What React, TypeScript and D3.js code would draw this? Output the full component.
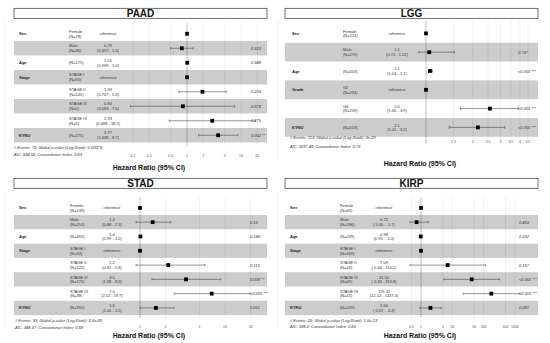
import * as React from "react";
import * as d3 from "d3";

const W = 550;
const H = 343;
const FONT = "Liberation Sans, Arial, sans-serif";

// ---- PAAD ----
const paadVars = ["Sex", "", "Age", "Stage", "", "", "", "KYNU"];
const paadLevels = ["Female", "Male", "", "STAGE I", "STAGE II", "STAGE III", "STAGE IV", ""];
const paadN = [78, 96, 175, 90, 145, 5, 5, 175];
const paadHR = [1, 0.8, 1.01, 1, 1.93, 0.84, 2.93, 3.77];
const paadLow = [NaN, 0.497, 0.999, NaN, 0.707, 0.083, 0.468, 1.638];
const paadHigh = [NaN, 1.3, 1.02, NaN, 5.3, 7.6, 18.5, 8.7];
const paadHRText = ["reference", "0.79", "1.01", "reference", "1.93", "0.84", "2.93", "3.77"];
const paadCIText = ["", "(0.497 - 1.3)", "(0.999 - 1.0)", "", "(0.707 - 5.3)", "(0.083 - 7.6)", "(0.468 - 18.5)", "(1.638 - 8.7)"];
const paadP = ["", "0.313", "0.348", "", "0.203", "0.878", "0.275", "0.002 **"];
const paadTicks = [0.1, 0.2, 0.5, 1, 2, 5, 10, 20];
const paadFooter = ["# Events: 73; Global p-value (Log-Rank): 0.00079", "AIC: 634.56; Concordance Index: 0.63"];

// ---- LGG ----
const lggVars = ["Sex", "", "Age", "Grade", "", "KYNU"];
const lggLevels = ["Female", "Male", "", "G2", "G3", ""];
const lggN = [224, 279, 503, 244, 259, 503];
const lggHR = [1, 1.05, 1.06, 1, 2.57, 2.15];
const lggLow = [NaN, 0.72, 1.04, NaN, 1.66, 1.41];
const lggHigh = [NaN, 1.52, 1.1, NaN, 3.9, 3.2];
const lggHRText = ["reference", "1.1", "1.1", "reference", "2.6", "2.1"];
const lggCIText = ["", "(0.72 - 1.52)", "(1.04 - 1.1)", "", "(1.66 - 3.9)", "(1.41 - 3.2)"];
const lggP = ["", "0.797", "<0.001 ***", "", "<0.001 ***", "<0.001 ***"];
const lggTicks = [1, 1.5, 2, 2.5, 3, 3.5, 4, 4.5];
const lggFooter = ["# Events: 113; Global p-value (Log-Rank): 3e-20", "AIC: 1037.46; Concordance Index: 0.79"];

// ---- STAD ----
const stadVars = ["Sex", "", "Age", "Stage", "", "", "", "KYNU"];
const stadLevels = ["Female", "Male", "", "STAGE I", "STAGE II", "STAGE III", "STAGE IV", ""];
const stadN = [139, 253, 392, 53, 125, 175, 38, 392];
const stadHR = [1, 1.41, 1.01, 1, 2.15, 3.48, 6.97, 1.54];
const stadLow = [NaN, 0.88, 0.99, NaN, 0.82, 1.38, 2.52, 1.0];
const stadHigh = [NaN, 2.3, 1.02, NaN, 5.8, 8.9, 19.7, 2.5];
const stadHRText = ["reference", "1.4", "1.0", "reference", "2.2", "3.5", "7.0", "1.6"];
const stadCIText = ["", "(0.88 - 2.3)", "(0.99 - 1.0)", "", "(0.82 - 5.8)", "(1.38 - 8.9)", "(2.52 - 19.7)", "(1.00 - 2.5)"];
const stadP = ["", "0.15", "0.149", "", "0.119", "0.008 **", "<0.001 ***", "0.051"];
const stadTicks = [1, 2, 5, 10, 20];
const stadFooter = ["# Events: 93; Global p-value (Log-Rank): 2.5e-05", "AIC: 948.37; Concordance Index: 0.68"];

// ---- KIRP ----
const kirpVars = ["Sex", "", "Age", "Stage", "", "", "", "KYNU"];
const kirpLevels = ["Female", "Male", "", "STAGE I", "STAGE II", "STAGE III", "STAGE IV", ""];
const kirpN = [63, 186, 249, 169, 16, 49, 15, 249];
const kirpHR = [1, 0.72, 0.98, 1, 7.09, 41.5, 176.32, 2.0];
const kirpLow = [NaN, 0.3, 0.95, NaN, 0.44, 5.38, 22.12, 0.92];
const kirpHigh = [NaN, 1.7, 1.0, NaN, 114.1, 319.8, 1437.4, 4.4];
const kirpHRText = ["reference", "0.72", "0.98", "reference", "7.09", "41.50", "176.32", "2.00"];
const kirpCIText = ["", "( 0.30 -  1.7)", "(0.95 -  1.0)", "", "( 0.44 - 114.1)", "( 5.38 - 319.8)", "(22.12 - 1437.4)", "( 0.92 -  4.4)"];
const kirpP = ["", "0.453", "0.232", "", "0.167", "<0.001 ***", "<0.001 ***", "0.081"];
const kirpTicks = [0.5, 1, 5, 10, 50, 100, 500, 1000];
const kirpFooter = ["# Events: 25; Global p-value (Log-Rank): 1.5e-13", "AIC: 188.2; Concordance Index: 0.83"];

const panels = [
  {
    title: "PAAD", vars: paadVars, levels: paadLevels, n: paadN, hr: paadHR, low: paadLow, high: paadHigh,
    hrText: paadHRText, ciText: paadCIText, p: paadP, ticks: paadTicks, footer: paadFooter,
    x: 0, y: 0, rowTop: 26.5, rowH: 14.5, domain: [0.1, 20], range: [133, 257.3],
    varX: 19, levelX: 69, estX: 108, pX: 251, footX: 14, footY: [147.5, 154.5], axisY: 155.5, hrY: 169.5,
  },
  {
    title: "LGG", vars: lggVars, levels: lggLevels, n: lggN, hr: lggHR, low: lggLow, high: lggHigh,
    hrText: lggHRText, ciText: lggCIText, p: lggP, ticks: lggTicks, footer: lggFooter,
    x: 271, y: 0, rowTop: 24, rowH: 18.8, domain: [1, 4.5], range: [155, 256.9],
    varX: 21, levelX: 72, estX: 126, pX: 247, footX: 19, footY: [137.8, 146], axisY: 142, hrY: 165.5,
  },
  {
    title: "STAD", vars: stadVars, levels: stadLevels, n: stadN, hr: stadHR, low: stadLow, high: stadHigh,
    hrText: stadHRText, ciText: stadCIText, p: stadP, ticks: stadTicks, footer: stadFooter,
    x: 0, y: 170, rowTop: 30.7, rowH: 14.3, domain: [1, 20], range: [140, 250.6],
    varX: 19, levelX: 70, estX: 112, pX: 250, footX: 15, footY: [150, 157], axisY: 156.5, hrY: 167.5,
  },
  {
    title: "KIRP", vars: kirpVars, levels: kirpLevels, n: kirpN, hr: kirpHR, low: kirpLow, high: kirpHigh,
    hrText: kirpHRText, ciText: kirpCIText, p: kirpP, ticks: kirpTicks, footer: kirpFooter,
    x: 271, y: 170, rowTop: 30.7, rowH: 14.3, domain: [0.5, 1000], range: [140.6, 243.9],
    varX: 19, levelX: 69, estX: 113, pX: 248, footX: 19, footY: [150, 156.5], axisY: 156.5, hrY: 167.5,
  },
];

function Forest({ d }: { d: any }) {
  const x = d3.scaleLog().domain(d.domain).range(d.range);
  const nRows = d.vars.length;
  const rowBottom = d.rowTop + nRows * d.rowH;
  const cy = (i: number) => d.rowTop + (i + 0.5) * d.rowH;
  const cap = d.rowH * 0.08;
  const small = 4;

  return (
    <g transform={`translate(${d.x},${d.y})`} fontFamily={FONT}>
      {/* title box */}
      <rect x={14} y={8.3} width={253} height={10} fill="#fff" stroke="#333" strokeWidth={0.7} />
      <text x={140.5} y={17} textAnchor="middle" fontWeight="bold" fontSize={10} fill="#111">{d.title}</text>

      {/* grid */}
      {d.ticks.map((t: number) => (
        <line key={"g" + t} x1={x(t)} x2={x(t)} y1={d.rowTop - 3} y2={rowBottom + 3} stroke="#dedede" strokeWidth={0.5} />
      ))}

      {/* row bands */}
      {d.vars.map((_: string, i: number) => (
        <rect key={"b" + i} x={14} width={253} y={d.rowTop + i * d.rowH} height={d.rowH}
          fill={i % 2 === 1 ? "rgba(0,0,0,0.2)" : "rgba(255,255,255,0.2)"} />
      ))}

      {/* reference line */}
      <line x1={x(1)} x2={x(1)} y1={d.rowTop - 3} y2={rowBottom + 3} stroke="#444" strokeWidth={0.5} strokeDasharray="0.8,0.8" />

      {d.vars.map((v: string, i: number) => {
        const c = cy(i);
        const hasCI = !isNaN(d.low[i]);
        const lo = hasCI ? Math.max(d.low[i], d.domain[0] * 0.9) : 1;
        return (
          <g key={"r" + i}>
            {v && <text x={d.varX} y={c} dominantBaseline="central" fontWeight="bold" fontSize={small} fill="#222">{v}</text>}
            {d.levels[i] ? (
              <>
                <text x={d.levelX} y={c - 2.3} dominantBaseline="central" fontSize={small} fill="#333">{d.levels[i]}</text>
                <text x={d.levelX} y={c + 2.3} dominantBaseline="central" fontSize={small} fill="#333">{`(N=${d.n[i]})`}</text>
              </>
            ) : (
              <text x={d.levelX} y={c} dominantBaseline="central" fontSize={small} fill="#333">{`(N=${d.n[i]})`}</text>
            )}
            {d.ciText[i] ? (
              <>
                <text x={d.estX} y={c - 2.3} dominantBaseline="central" textAnchor="middle" fontSize={small} fill="#333">{d.hrText[i]}</text>
                <text x={d.estX} y={c + 2.3} dominantBaseline="central" textAnchor="middle" fontSize={small} fill="#333" style={{ whiteSpace: "pre" }}>{d.ciText[i]}</text>
              </>
            ) : (
              <text x={d.estX} y={c} dominantBaseline="central" textAnchor="middle" fontSize={small} fill="#333">{d.hrText[i]}</text>
            )}
            {hasCI && (
              <g stroke="#333" strokeWidth={0.5}>
                <line x1={x(lo)} x2={x(d.high[i])} y1={c} y2={c} />
                <line x1={x(lo)} x2={x(lo)} y1={c - cap} y2={c + cap} />
                <line x1={x(d.high[i])} x2={x(d.high[i])} y1={c - cap} y2={c + cap} />
              </g>
            )}
            <rect x={x(d.hr[i]) - 1.9} y={c - 1.9} width={3.8} height={3.8} fill="#000" />
            {d.p[i] && <text x={d.pX} y={c} dominantBaseline="central" fontStyle="italic" fontSize={small} fill="#333">{d.p[i]}</text>}
          </g>
        );
      })}

      {/* axis labels */}
      {d.ticks.map((t: number) => (
        <text key={"t" + t} x={x(t)} y={d.axisY} dominantBaseline="central" textAnchor="middle" fontSize={3.5} fill="#4d4d4d">{String(t)}</text>
      ))}

      {/* footer */}
      {d.footer.map((f: string, i: number) => (
        <text key={"f" + i} x={d.footX} y={d.footY[i]} dominantBaseline="central" fontStyle="italic" fontSize={small} fill="#333">{f}</text>
      ))}

      <text x={149} y={d.hrY} textAnchor="middle" fontWeight="bold" fontSize={7} fill="#111">Hazard Ratio (95% CI)</text>
    </g>
  );
}

export default function App() {
  return (
    <svg width={W} height={H} style={{ position: "absolute", left: 0, top: 0, background: "#fff" }}>
      <rect width={W} height={H} fill="#fff" />
      <line x1={5} x2={5} y1={20} y2={160} stroke="#eee" strokeWidth={0.8} />
      <line x1={278} x2={278} y1={20} y2={160} stroke="#eee" strokeWidth={0.8} />
      <line x1={5} x2={5} y1={190} y2={330} stroke="#eee" strokeWidth={0.8} />
      <line x1={278} x2={278} y1={190} y2={330} stroke="#eee" strokeWidth={0.8} />
      {panels.map((p) => <Forest key={p.title} d={p} />)}
    </svg>
  );
}
